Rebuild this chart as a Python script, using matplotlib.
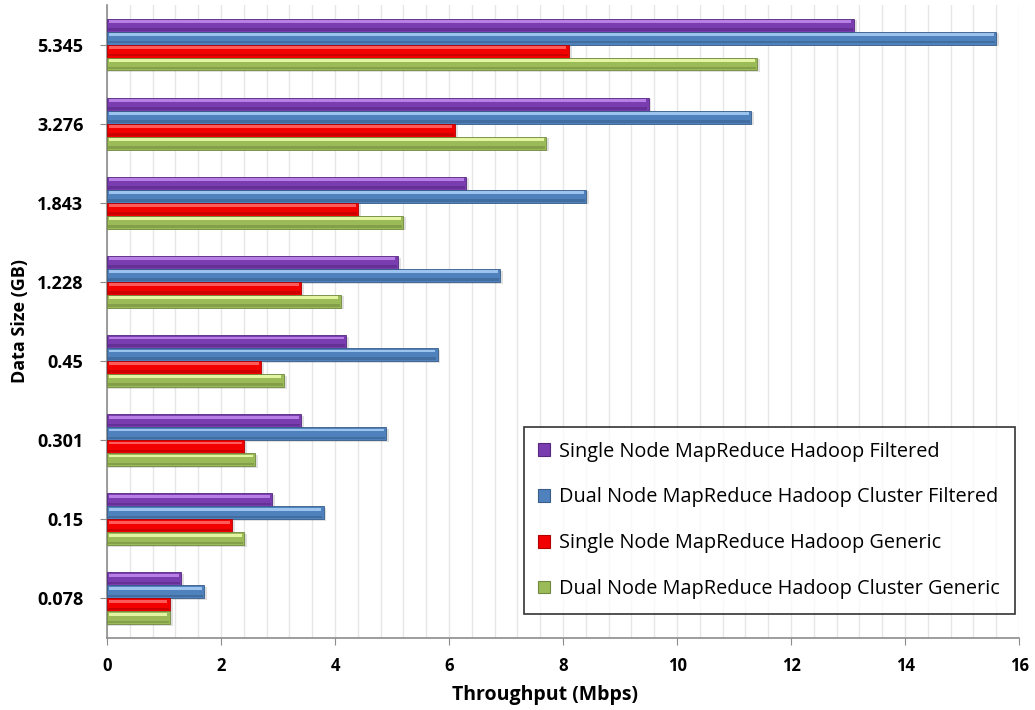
import numpy as np
import matplotlib.pyplot as plt
from matplotlib.ticker import MultipleLocator
from matplotlib.patches import Patch

# data sizes (GB), bottom to top
sizes = ['0.078', '0.15', '0.301', '0.45', '1.228', '1.843', '3.276', '5.345']

single_filtered = [1.3, 2.9, 3.4, 4.2, 5.1, 6.3, 9.5, 13.1]
dual_filtered = [1.7, 3.8, 4.9, 5.8, 6.9, 8.4, 11.3, 15.6]
single_generic = [1.1, 2.2, 2.4, 2.7, 3.4, 4.4, 6.1, 8.1]
dual_generic = [1.1, 2.4, 2.6, 3.1, 4.1, 5.2, 7.7, 11.4]

labels = ['Single Node MapReduce Hadoop Filtered',
          'Dual Node MapReduce Hadoop Cluster Filtered',
          'Single Node MapReduce Hadoop Generic',
          'Dual Node MapReduce Hadoop Cluster Generic']

# (base, highlight, dark edge)
colors = [('#7A3DB0', '#B77EE6', '#55277F'),
          ('#4F81BD', '#9CC3EE', '#385D8A'),
          ('#F20000', '#FF5A5A', '#B00000'),
          ('#9BBB59', '#E4F5A2', '#71893F')]

plt.rcParams['font.family'] = ['Open Sans', 'DejaVu Sans']

fig = plt.figure(figsize=(10.35, 7.1), dpi=100)
ax = fig.add_axes([0.1034, 0.1014, 0.8812, 0.8916])

y = np.arange(len(sizes))
h = 0.164
series = [single_filtered, dual_filtered, single_generic, dual_generic]
for i, (vals, (base, light, dark)) in enumerate(zip(series, colors)):
    yc = y + (1.5 - i) * h
    # soft shadow
    ax.barh(yc - 0.02, np.array(vals) + 0.05, height=h, color='#000000',
            alpha=0.12, zorder=2, linewidth=0)
    ax.barh(yc, vals, height=h, color=base, edgecolor=dark, linewidth=0.6, zorder=3)
    # bevel: light top strip and dark bottom strip
    ax.barh(yc + h * 0.28, np.array(vals) - 0.08, height=h * 0.22, color=light,
            linewidth=0, zorder=4, left=0.04)
    ax.barh(yc - h * 0.32, np.array(vals) - 0.04, height=h * 0.2, color=dark,
            alpha=0.55, linewidth=0, zorder=4, left=0.02)

ax.set_xlim(0, 16)
ax.set_ylim(-0.5, len(sizes) - 0.5)
ax.set_yticks(y)
ax.set_yticklabels(sizes)
ax.xaxis.set_major_locator(MultipleLocator(2))
ax.xaxis.set_minor_locator(MultipleLocator(0.4))
ax.grid(axis='x', which='both', color='#E6E6E6', linewidth=1.0, zorder=0)
ax.set_axisbelow(True)

for s in ['top', 'right']:
    ax.spines[s].set_visible(False)
for s in ['left', 'bottom']:
    ax.spines[s].set_color('#8C8C8C')
    ax.spines[s].set_linewidth(1.2)

ax.tick_params(axis='both', which='major', length=5, color='#8C8C8C', labelsize=12)
ax.tick_params(axis='y', labelsize=13, pad=12)
ax.tick_params(axis='x', pad=9)
ax.tick_params(axis='x', which='minor', length=0)
for t in ax.get_xticklabels() + ax.get_yticklabels():
    t.set_fontweight('bold')

ax.set_xlabel('Throughput (Mbps)', fontsize=14, fontweight='bold')
ax.xaxis.set_label_coords(0.48, -0.075)
ax.set_ylabel('Data Size (GB)', fontsize=13, fontweight='bold')
ax.yaxis.set_label_coords(-0.085, 0.5)

handles = [Patch(facecolor=c[0], edgecolor=c[2], linewidth=0.8) for c in colors]
leg = ax.legend(handles, labels, loc='lower right', bbox_to_anchor=(0.9956, 0.038),
                fontsize=14.3, frameon=True, fancybox=False, edgecolor='black',
                handlelength=0.6, handleheight=0.6, handletextpad=0.45,
                labelspacing=1.3, borderpad=0.75, borderaxespad=0)
leg.get_frame().set_linewidth(1.2)
leg.set_zorder(10)

fig.savefig('out.png', dpi=100, facecolor='white')
